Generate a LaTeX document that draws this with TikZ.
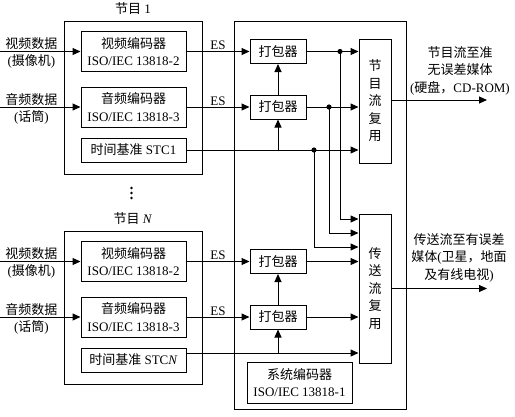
\documentclass[tikz,border=0pt]{standalone}
\usepackage{fontspec}
\setmainfont{Liberation Serif}
\newfontfamily\zhfont{Noto Sans CJK SC}
\newcommand{\zh}[1]{{\zhfont #1}}
\usetikzlibrary{arrows.meta}

\begin{document}
\begin{tikzpicture}[x=1pt,y=-1pt,
    font=\fontsize{13}{17.5}\selectfont,
    every node/.style={inner sep=1pt},
    ln/.style={line width=1pt},
    arr/.style={ln, -{Triangle[length=8pt,width=7pt]}},
    prog/.style={ln, draw, minimum width=138pt, minimum height=153pt},
    enc/.style={ln, draw, fill=white, align=center, minimum width=105pt, minimum height=40pt},
    stcbox/.style={ln, draw, fill=white, minimum width=105pt, minimum height=24pt},
    packbox/.style={ln, draw, fill=white, minimum width=56pt, minimum height=24pt},
    muxbox/.style={ln, draw, fill=white, align=center, minimum width=32pt},
    dot/.style={fill=black}]

\useasboundingbox (0,0) rectangle (515,416);

% Multiplexer frame
\node[ln, draw, minimum width=172pt, minimum height=388pt] (frame) at (320,215) {};

% Program 1 and program N
\foreach \n/\dy/\lab in {1/0/1, N/210/\textit{N}}
{
    \node[prog] (prog\n) at (133,97.5+\dy) {};
    \node (title\n) at (133,9+\dy) {\zh{节目} \lab};
    \node[enc] (vid\n) at (133.5,51.5+\dy) {\zh{视频编码器}\\ISO/IEC 13818-2};
    \node[enc] (aud\n) at (133.5,107+\dy) {\zh{音频编码器}\\ISO/IEC 13818-3};
    \node[stcbox] (stc\n) at (133.5,150+\dy) {\zh{时间基准} STC\lab};
    \node[packbox] (pka\n) at (278,51.5+\dy) {\zh{打包器}};
    \node[packbox] (pkb\n) at (278,107+\dy) {\zh{打包器}};

    % inputs
    \coordinate (vin\n) at (0,51.5+\dy);
    \coordinate (ain\n) at (0,107+\dy);
    \draw[arr] (vin\n) -- node[above,pos=0.39] (vlab\n) {\zh{视频数据}}
        node[below=2pt,pos=0.39] (vsrc\n) {(\zh{摄像机})} (vid\n);
    \draw[arr] (ain\n) -- node[above,pos=0.39] (alab\n) {\zh{音频数据}}
        node[below=2pt,pos=0.39] (asrc\n) {(\zh{话筒})} (aud\n);

    % elementary streams
    \draw[arr] (vid\n) -- node[above] (esv\n) {ES} (pka\n);
    \draw[arr] (aud\n) -- node[above] (esa\n) {ES} (pkb\n);
    \draw[arr] (pkb\n) -- (pka\n);
}

% dots between the programs
\foreach \y in {188,193,198}
    \fill[dot] (131.5,\y) circle (1.3);

% Program stream mux
\node[muxbox, minimum height=124pt] (mux1) at (375,101)
    {\zh{节}\\\zh{目}\\\zh{流}\\\zh{复}\\\zh{用}};

% Transport stream mux
\node[muxbox, minimum height=149pt] (muxN) at (375,288.5)
    {\zh{传}\\\zh{送}\\\zh{流}\\\zh{复}\\\zh{用}};

% System encoder
\node[enc, minimum height=41pt] (sysenc) at (299.5,382.5) {\zh{系统编码器}\\ISO/IEC 13818-1};

% Program 1 to both muxes
\coordinate (bra) at (340,51.5);
\coordinate (brb) at (329,107);
\coordinate (brc) at (314,150);
\draw[arr] (pka1) -- (pka1 -| mux1.west);
\draw[arr] (pkb1) -- (pkb1 -| mux1.west);
\draw[arr] (stc1) -- (stc1 -| mux1.west);
\draw[arr] (stc1 -| pkb1) -- (pkb1);
\draw[arr] (bra) |- (muxN.west |- 0,219);
\draw[arr] (brb) |- (muxN.west |- 0,233);
\draw[arr] (brc) |- (muxN.west |- 0,247);
\foreach \b in {bra,brb,brc}
    \fill[dot] (\b) circle (2.6);

% Program N to transport mux
\coordinate (stcout) at ([yshift=7pt]stcN.east);
\draw[arr] (pkaN) -- (pkaN -| muxN.west);
\draw[arr] (pkbN) -- (pkbN -| muxN.west);
\draw[arr] (stcout) -- (stcout -| muxN.west);
\draw[arr] (stcout -| pkbN) -- (pkbN);

% Outputs
\coordinate (out1) at (487,100);
\coordinate (outN) at (487,288.5);
\draw[arr] (mux1.east |- out1) -- (out1);
\draw[arr] (muxN.east) -- (outN);
\node[anchor=south, align=center] (dest1) at (460,96)
    {\zh{节目流至准}\\\zh{无误差媒体}\\(\zh{硬盘，}CD-ROM)};
\node[anchor=south, align=center] (destN) at (459,283)
    {\zh{传送流至有误差}\\\zh{媒体}(\zh{卫星，地面}\\\zh{及有线电视})};

\end{tikzpicture}
\end{document}
